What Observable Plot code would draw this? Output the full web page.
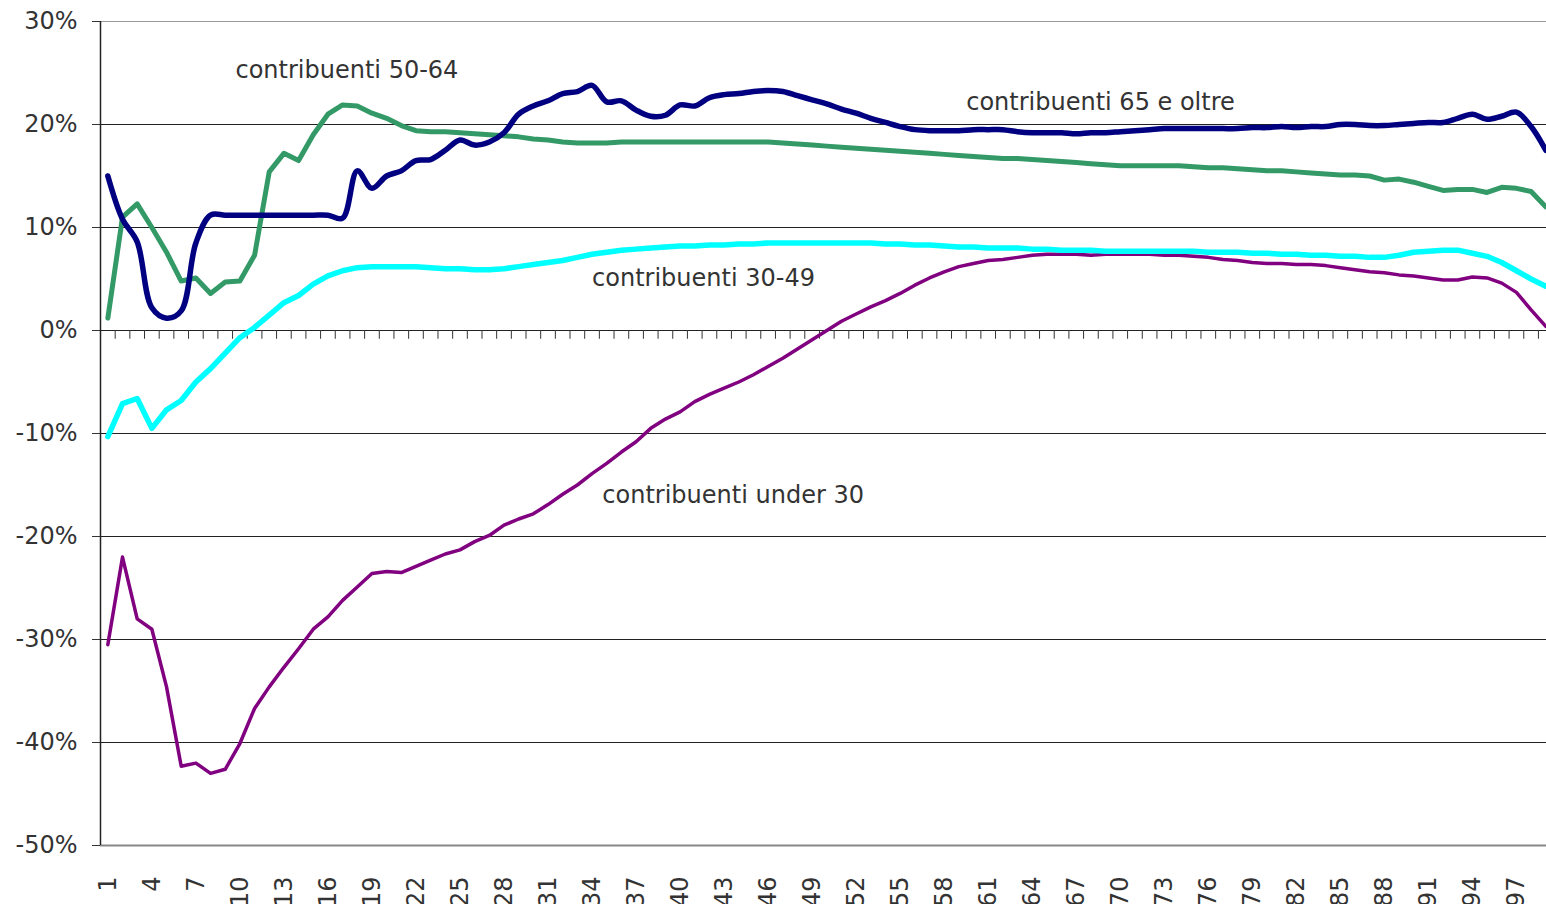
<!DOCTYPE html>
<html>
<head>
<meta charset="utf-8">
<script src="https://cdn.jsdelivr.net/npm/d3@7"></script>
<script src="https://cdn.jsdelivr.net/npm/@observablehq/plot@0.6"></script>
<style>
  html, body { margin: 0; padding: 0; background: #fff; overflow: hidden; }
  svg { display: block; }
</style>
</head>
<body>
<div id="chart"></div>
<script>
// categories 1..99
const categories = Array.from({length: 99}, (_, i) => i + 1);
const xTickLabels = categories.filter(v => (v - 1) % 3 === 0);
const yTicks = [-50, -40, -30, -20, -10, 0, 10, 20, 30];

const seriesNames = ["contribuenti under 30", "contribuenti 30-49", "contribuenti 50-64", "contribuenti 65 e oltre"];
const seriesColors = ["#800080", "#00FFFF", "#339966", "#000080"];

const under30 = [
  -30.5, -22.0, -28.0, -29.0, -34.6, -42.3, -42.0, -43.0, -42.6, -40.1,
  -36.7, -34.6, -32.7, -30.9, -29.0, -27.8, -26.2, -24.9, -23.6, -23.4,
  -23.5, -22.9, -22.3, -21.7, -21.3, -20.5, -19.9, -18.9, -18.3, -17.8,
  -16.9, -15.9, -15.0, -13.9, -12.9, -11.8, -10.8, -9.5, -8.6, -7.9,
  -6.9, -6.2, -5.6, -5.0, -4.3, -3.5, -2.7, -1.8, -0.9, 0.0,
  0.9, 1.6, 2.3, 2.9, 3.6, 4.4, 5.1, 5.7, 6.2, 6.5,
  6.8, 6.9, 7.1, 7.3, 7.4, 7.4, 7.4, 7.3, 7.4, 7.4,
  7.4, 7.4, 7.3, 7.3, 7.2, 7.1, 6.9, 6.8, 6.6, 6.5,
  6.5, 6.4, 6.4, 6.3, 6.1, 5.9, 5.7, 5.6, 5.4, 5.3,
  5.1, 4.9, 4.9, 5.2, 5.1, 4.6, 3.7, 2.0, 0.4
];

const age30to49 = [
  -10.3, -7.1, -6.6, -9.5, -7.7, -6.8, -5.0, -3.7, -2.2, -0.7,
  0.3, 1.5, 2.7, 3.4, 4.5, 5.3, 5.8, 6.1, 6.2, 6.2,
  6.2, 6.2, 6.1, 6.0, 6.0, 5.9, 5.9, 6.0, 6.2, 6.4,
  6.6, 6.8, 7.1, 7.4, 7.6, 7.8, 7.9, 8.0, 8.1, 8.2,
  8.2, 8.3, 8.3, 8.4, 8.4, 8.5, 8.5, 8.5, 8.5, 8.5,
  8.5, 8.5, 8.5, 8.4, 8.4, 8.3, 8.3, 8.2, 8.1, 8.1,
  8.0, 8.0, 8.0, 7.9, 7.9, 7.8, 7.8, 7.8, 7.7, 7.7,
  7.7, 7.7, 7.7, 7.7, 7.7, 7.6, 7.6, 7.6, 7.5, 7.5,
  7.4, 7.4, 7.3, 7.3, 7.2, 7.2, 7.1, 7.1, 7.3, 7.6,
  7.7, 7.8, 7.8, 7.5, 7.2, 6.6, 5.8, 5.0, 4.3
];

const age50to64 = [
  1.2, 11.0, 12.3, 10.0, 7.6, 4.8, 5.1, 3.6, 4.7, 4.8,
  7.3, 15.4, 17.2, 16.5, 19.0, 21.0, 21.9, 21.8, 21.1, 20.6,
  19.9, 19.4, 19.3, 19.3, 19.2, 19.1, 19.0, 18.9, 18.8, 18.6,
  18.5, 18.3, 18.2, 18.2, 18.2, 18.3, 18.3, 18.3, 18.3, 18.3,
  18.3, 18.3, 18.3, 18.3, 18.3, 18.3, 18.2, 18.1, 18.0, 17.9,
  17.8, 17.7, 17.6, 17.5, 17.4, 17.3, 17.2, 17.1, 17.0, 16.9,
  16.8, 16.7, 16.7, 16.6, 16.5, 16.4, 16.3, 16.2, 16.1, 16.0,
  16.0, 16.0, 16.0, 16.0, 15.9, 15.8, 15.8, 15.7, 15.6, 15.5,
  15.5, 15.4, 15.3, 15.2, 15.1, 15.1, 15.0, 14.6, 14.7, 14.4,
  14.0, 13.6, 13.7, 13.7, 13.4, 13.9, 13.8, 13.5, 12.0
];

const over65 = [
  15.0, 10.8, 8.6, 2.2, 1.2, 1.9, 8.5, 11.2, 11.2, 11.2,
  11.2, 11.2, 11.2, 11.2, 11.2, 11.2, 10.9, 15.5, 13.8, 15.0,
  15.5, 16.5, 16.6, 17.5, 18.5, 18.0, 18.3, 19.2, 21.0, 21.8,
  22.3, 23.0, 23.2, 23.8, 22.2, 22.3, 21.4, 20.8, 20.9, 21.9,
  21.8, 22.6, 22.9, 23.0, 23.2, 23.3, 23.2, 22.8, 22.4, 22.0,
  21.5, 21.1, 20.6, 20.2, 19.8, 19.5, 19.4, 19.4, 19.4, 19.5,
  19.5, 19.5, 19.3, 19.2, 19.2, 19.2, 19.1, 19.2, 19.2, 19.3,
  19.4, 19.5, 19.6, 19.6, 19.6, 19.6, 19.6, 19.6, 19.7, 19.7,
  19.8, 19.7, 19.8, 19.8, 20.0, 20.0, 19.9, 19.9, 20.0, 20.1,
  20.2, 20.2, 20.6, 21.0, 20.5, 20.8, 21.2, 19.8, 17.5
];

const seriesValues = [under30, age30to49, age50to64, over65];

// annotation labels (anchor in data coordinates: category, percent)
const labelTexts = seriesNames;
const labelX = [34.7, 34.0, 9.7, 59.5];
const labelY = [-16.0, 5.1, 25.3, 22.2];

const seriesData = seriesNames.map((name, s) =>
  categories.map((c, i) => ({cat: c, value: seriesValues[s][i], series: name}))
);
const labels = labelTexts.map((t, i) => ({text: t, x: labelX[i], y: labelY[i]}));
const boundaries = categories.slice(0, -1).map(v => v + 0.5);

const font = "'DejaVu Sans', Verdana, sans-serif";
const widths = [3.5, 5.5, 5, 5.5];
const curves = ["linear", "linear", "linear", "catmull-rom"];

const chart = Plot.plot({
  width: 1546,
  height: 904,
  marginTop: 21,
  marginBottom: 59,
  marginLeft: 100,
  marginRight: 0,
  style: {fontFamily: font, fontSize: "24px", color: "#333", background: "#fff", overflow: "visible"},
  x: {type: "linear", domain: [0.5, 99.05]},
  y: {domain: [-50, 30]},
  marks: [
    Plot.ruleY([-40, -30, -20, -10, 0, 10, 20], {stroke: "#222", strokeWidth: 1}),
    Plot.ruleY([30], {stroke: "#999", strokeWidth: 1}),
    Plot.ruleY([-50], {stroke: "#888", strokeWidth: 2}),
    Plot.ruleX(boundaries, {x: d => d, y1: 0, y2: -0.85, stroke: "#333", strokeWidth: 1}),
    Plot.ruleX([0.5], {y1: -50, y2: 30, stroke: "#222", strokeWidth: 1.5}),
    Plot.axisY({ticks: yTicks, tickFormat: d => d + "%", tickSize: 8, tickPadding: 15, fontSize: 24, label: null, stroke: "#333"}),
    Plot.axisX({ticks: xTickLabels, tickFormat: d => String(d), tickRotate: -90, tickSize: 0, tickPadding: 31, fontSize: 24, label: null}),
    ...seriesData.map((d, s) => Plot.line(d, {
      x: "cat", y: "value", stroke: seriesColors[s], strokeWidth: widths[s],
      curve: curves[s], strokeLinejoin: "round", strokeLinecap: "round"
    })),
    Plot.text(labels, {x: "x", y: "y", text: "text", textAnchor: "start", lineAnchor: "middle", fontSize: 24, fill: "#333"})
  ]
});
document.getElementById("chart").appendChild(chart);
</script>
</body>
</html>
